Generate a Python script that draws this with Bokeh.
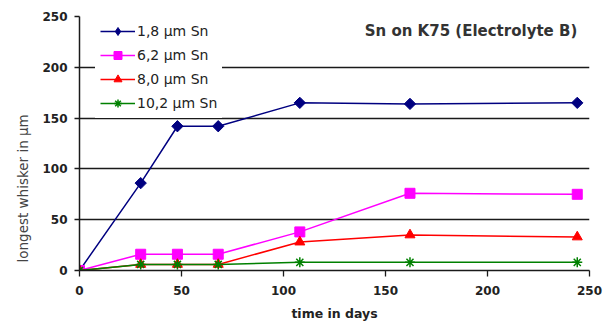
import math
from bokeh.plotting import figure
from bokeh.models import Range1d, Legend, LegendItem, Label, FixedTicker, Title
from bokeh.embed import file_html
from bokeh.resources import INLINE

days = [0, 30, 48, 68, 108, 162, 244]
s18 = [0, 86, 142, 142, 165, 164, 165]
s62 = [0, 16, 16, 16, 38, 76, 75]
s80 = [0, 6, 6, 6, 28, 35, 33]
s102 = [0, 6, 6, 6, 8, 8, 8]

names = ["1,8 \u00b5m Sn", "6,2 \u00b5m Sn", "8,0 \u00b5m Sn", "10,2 \u00b5m Sn"]
colors = ["#000080", "#FF00FF", "#FF0000", "#008000"]
markers = ["square", "square", "triangle", "asterisk"]
legend_markers = ["diamond", "square", "triangle", "asterisk"]
angles = [math.pi / 4, 0, 0, 0]
sizes = [8, 10, 10, 10]
legend_sizes = [9, 7, 8, 8]
series = [s18, s62, s80, s102]

y_ticks = [0, 50, 100, 150, 200, 250]
x_ticks = [0, 50, 100, 150, 200, 250]

FONT = "DejaVu Sans"

p = figure(width=610, height=329,
           x_range=Range1d(0, 250), y_range=Range1d(0, 250),
           output_backend="svg", toolbar_location=None,
           min_border_left=79, min_border_right=21, min_border_top=16, min_border_bottom=59)
p.outline_line_color = None
p.xgrid.grid_line_color = None
p.ygrid.grid_line_color = "#1a1a1a"
p.ygrid.grid_line_width = 1.3
p.ygrid.ticker = FixedTicker(ticks=y_ticks[1:])

for ax in (p.xaxis[0], p.yaxis[0]):
    ax.axis_line_color = "#1a1a1a"
    ax.axis_line_width = 1.5
    ax.major_tick_line_color = "#1a1a1a"
    ax.major_tick_line_width = 1.3
    ax.major_tick_in = 0
    ax.minor_tick_line_color = None
    ax.major_label_text_font = FONT
    ax.major_label_text_font_size = "12px"
    ax.major_label_text_font_style = "bold"
    ax.major_label_text_color = "#222222"
p.xaxis.ticker = FixedTicker(ticks=x_ticks)
p.yaxis.ticker = FixedTicker(ticks=y_ticks)
p.xaxis.major_tick_out = 6
p.yaxis.major_tick_out = 5
p.xaxis.major_label_standoff = 9
p.yaxis.major_label_standoff = 7
p.xaxis.axis_label = "time in days"
p.xaxis.axis_label_text_font = FONT
p.xaxis.axis_label_text_font_size = "12.5px"
p.xaxis.axis_label_text_font_style = "bold"
p.xaxis.axis_label_text_color = "#222222"
p.xaxis.axis_label_standoff = 8

items = []
for name, c, m, lmk, a, sz, lsz, ys in zip(names, colors, markers, legend_markers, angles,
                                          sizes, legend_sizes, series):
    lr = p.line(days, ys, line_color=c, line_width=1.5)
    mr = p.scatter(days, ys, marker=m, size=sz, angle=a, fill_color=c, line_color=c,
                   line_width=1.5 if m == "asterisk" else 1)
    lm = p.scatter([float("nan")], [float("nan")], marker=lmk, size=lsz,
                   fill_color=c, line_color=c, line_width=1.5 if m == "asterisk" else 1)
    items.append(LegendItem(label=name, renderers=[lr, lm]))

legend = Legend(items=items, location=(16, 152), padding=5, spacing=4,
                label_height=20, glyph_height=20, glyph_width=35, label_standoff=2,
                border_line_alpha=0, background_fill_color="white", background_fill_alpha=1,
                margin=0, label_text_font=FONT, label_text_font_size="14px",
                label_text_color="#222222")
p.add_layout(legend, "center")

p.add_layout(Label(x=244, y=236, text="Sn on K75 (Electrolyte B)", text_align="right",
                   text_baseline="middle", text_font=FONT, text_font_size="15px",
                   text_font_style="bold", text_color="#333333"))
ylab = Title(text="longest whisker in \u00b5m", align="left", offset=8,
             text_font=FONT, text_font_size="13.5px", text_font_style="normal",
             text_color="#444444")
if "standoff" in Title.properties():
    ylab.standoff = 18
p.add_layout(ylab, "left")

open("out.html", "w").write(file_html(p, INLINE))
